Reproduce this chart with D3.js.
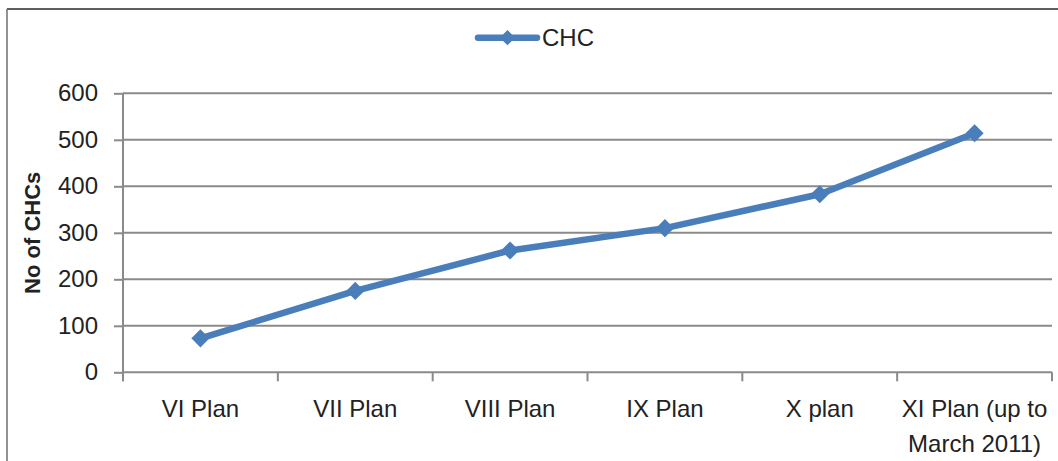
<!DOCTYPE html>
<html>
<head>
<meta charset="utf-8">
<script src="https://cdn.jsdelivr.net/npm/d3@7"></script>
<style>
  html, body { margin: 0; padding: 0; background: #fff; }
  svg { display: block; font-family: "Liberation Sans", Arial, sans-serif; }
</style>
</head>
<body>
<svg id="chart" width="1058" height="461"></svg>
<script>
// Community Health Centres established per Five Year Plan
const plans = ["VI Plan", "VII Plan", "VIII Plan", "IX Plan", "X plan", "XI Plan (up to\nMarch 2011)"];
const chcCounts = [73, 175, 262, 310, 383, 514];
const yTicks = [0, 100, 200, 300, 400, 500, 600];
const seriesName = "CHC";
const yTitle = "No of CHCs";

const svg = d3.select("#chart");
const W = 1058, H = 461;
const plot = { left: 123, right: 1052, top: 93.3, bottom: 372.3 };
const blue = "#4a7ebb";
const textColor = "#222";
const gridColor = "#8a8a8a";

// outer frame (top and left edges visible)
svg.append("line").attr("x1", 7).attr("x2", W).attr("y1", 9).attr("y2", 9)
  .attr("stroke", "#2a2a2a").attr("stroke-width", 1.5);
svg.append("line").attr("x1", 7).attr("x2", 7).attr("y1", 9).attr("y2", H)
  .attr("stroke", "#6e6e6e").attr("stroke-width", 1.5);

const x = d3.scaleBand().domain(plans).range([plot.left, plot.right]).padding(0);
const y = d3.scaleLinear().domain([0, 600]).range([plot.bottom, plot.top]);

// horizontal gridlines
svg.append("g").selectAll("line").data(yTicks.filter(d => d > 0)).join("line")
  .attr("x1", plot.left).attr("x2", plot.right)
  .attr("y1", d => y(d)).attr("y2", d => y(d))
  .attr("stroke", gridColor).attr("stroke-width", 2);

// y axis
const yAxis = svg.append("g").attr("transform", `translate(${plot.left},0)`)
  .call(d3.axisLeft(y).tickValues(yTicks).tickSize(9).tickPadding(16).tickSizeOuter(0));
yAxis.select(".domain").attr("stroke", gridColor).attr("stroke-width", 2)
  .attr("d", `M0,${plot.top}V${plot.bottom + 9}`);
yAxis.selectAll(".tick line").attr("stroke", gridColor).attr("stroke-width", 2);
yAxis.selectAll(".tick text").attr("fill", textColor)
  .style("font-size", "24px").style("font-family", "Liberation Sans, Arial, sans-serif");

// x axis: line with ticks on category boundaries
const xg = svg.append("g").attr("transform", `translate(0,${plot.bottom})`);
xg.append("line").attr("x1", plot.left).attr("x2", plot.right).attr("y1", 0).attr("y2", 0)
  .attr("stroke", gridColor).attr("stroke-width", 2);
const boundaries = plans.map(p => x(p)).concat([x(plans[plans.length - 1]) + x.bandwidth()]);
xg.selectAll("line.tk").data(boundaries).join("line").attr("class", "tk")
  .attr("x1", d => d).attr("x2", d => d).attr("y1", 0).attr("y2", 9)
  .attr("stroke", gridColor).attr("stroke-width", 2);

// category labels (multi-line where needed)
const labels = xg.selectAll("text.cat").data(plans).join("text").attr("class", "cat")
  .attr("x", d => x(d) + x.bandwidth() / 2)
  .attr("y", 45)
  .attr("text-anchor", "middle")
  .attr("fill", textColor)
  .style("font-size", "24px");
labels.each(function (d) {
  const lines = d.split("\n");
  d3.select(this).selectAll("tspan").data(lines).join("tspan")
    .attr("x", x(d) + x.bandwidth() / 2)
    .attr("dy", (l, i) => i === 0 ? 0 : 35)
    .text(l => l);
});

// y axis title
svg.append("text")
  .attr("transform", `translate(40,${(plot.top + plot.bottom) / 2}) rotate(-90)`)
  .attr("text-anchor", "middle")
  .attr("fill", textColor)
  .style("font-size", "22px").style("font-weight", "bold")
  .text(yTitle);

// data line
const line = d3.line()
  .x((d, i) => x(plans[i]) + x.bandwidth() / 2)
  .y(d => y(d));
svg.append("path").datum(chcCounts)
  .attr("d", line)
  .attr("fill", "none").attr("stroke", blue).attr("stroke-width", 6.5)
  .attr("stroke-linejoin", "round");

// diamond markers
const diamond = d3.symbol().type(d3.symbolDiamond2).size(210);
svg.append("g").selectAll("path").data(chcCounts).join("path")
  .attr("transform", (d, i) => `translate(${x(plans[i]) + x.bandwidth() / 2},${y(d)}) rotate(0)`)
  .attr("d", diamond)
  .attr("fill", blue);

// legend
const lg = svg.append("g").attr("transform", "translate(478,37.7)");
lg.append("line").attr("x1", 0).attr("x2", 59).attr("y1", 0).attr("y2", 0)
  .attr("stroke", blue).attr("stroke-width", 6.5).attr("stroke-linecap", "round");
lg.append("path").attr("transform", "translate(29.5,0)")
  .attr("d", d3.symbol().type(d3.symbolDiamond2).size(150)).attr("fill", blue);
lg.append("text").attr("x", 64).attr("y", 8.5)
  .attr("fill", textColor).style("font-size", "24px").text(seriesName);
</script>
</body>
</html>
